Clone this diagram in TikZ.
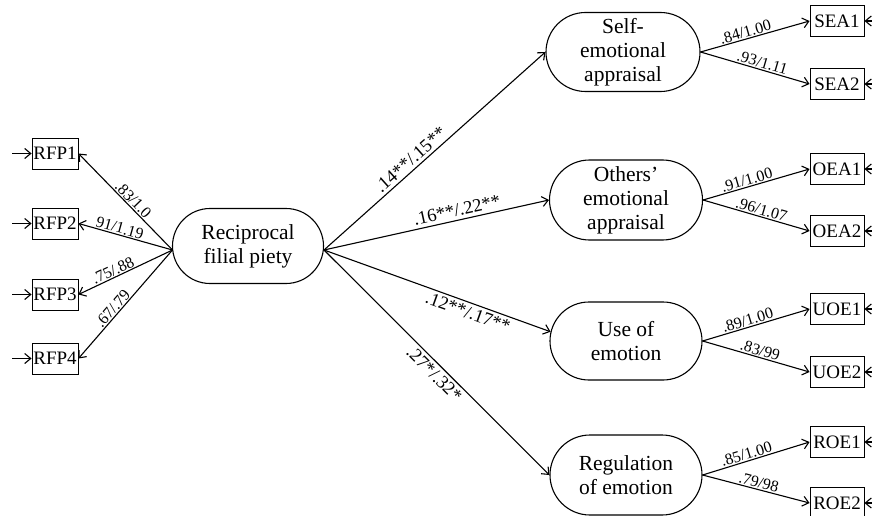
\documentclass[tikz,border=0pt]{standalone}
\usepackage{fontspec}
\setmainfont{Liberation Serif}
\usetikzlibrary{shapes.misc,arrows.meta}
\begin{document}
\begin{tikzpicture}[x=1pt,y=-1pt,
  lat/.style={draw, rounded rectangle, line width=1.1pt, inner sep=0pt, align=center, font=\fontsize{21.5}{24}\selectfont},
  obs/.style={draw, rectangle, line width=0.9pt, minimum height=31pt, inner xsep=1pt, inner ysep=0pt, font=\fontsize{19}{21}\selectfont},
  lobs/.style={obs, minimum width=46pt},
  robs/.style={obs, minimum width=54pt},
  arr/.style={line width=1.1pt, -{Straight Barb[length=6pt,width=10pt]}},
  pl/.style={font=\fontsize{18.5}{20}\selectfont, sloped, inner sep=3pt},
  ll/.style={font=\fontsize{16}{18}\selectfont, sloped, inner sep=1pt}]
\useasboundingbox (0,0) rectangle (872,516);
\clip (0,0) rectangle (872,516);

% latent nodes
\node[lat, minimum width=151pt, minimum height=75pt] (rfp) at (248,246) {Reciprocal\\filial piety};
\node[lat, minimum width=154pt, minimum height=79pt] (sea) at (623,52) {Self-\\emotional\\appraisal};
\node[lat, minimum width=153pt, minimum height=80pt] (oea) at (626,200) {Others’\\emotional\\appraisal};
\node[lat, minimum width=152pt, minimum height=78pt] (uoe) at (626,341) {Use of\\emotion};
\node[lat, minimum width=152pt, minimum height=80pt] (roe) at (626,475) {Regulation\\of emotion};

% left observed
\node[lobs] (r1) at (55,153.5) {RFP1};
\node[lobs] (r2) at (55,223.5) {RFP2};
\node[lobs] (r3) at (55,294.5) {RFP3};
\node[lobs] (r4) at (55,358.5) {RFP4};

% right observed
\node[robs] (s1) at (837,21) {SEA1};
\node[robs] (s2) at (837,84) {SEA2};
\node[robs] (o1) at (837,169) {OEA1};
\node[robs] (o2) at (837,231) {OEA2};
\node[robs] (u1) at (837,309) {UOE1};
\node[robs] (u2) at (837,372) {UOE2};
\node[robs] (g1) at (837,442) {ROE1};
\node[robs] (g2) at (837,503) {ROE2};

% helper coordinates
\coordinate (rl) at (172.5,250);
\coordinate (rr) at (324,250);
\foreach \n in {r1,r2,r3,r4}{
  \coordinate (\n x) at (\n.west -| 12,0);
  \draw[arr] (\n x) -- (\n.west);
}
\foreach \n in {s1,s2,o1,o2,u1,u2,g1,g2}{
  \coordinate (\n x) at (\n.east -| 890,0);
  \draw[arr] (\n x) -- (\n.east);
}

% left loadings
\draw[arr] (rl) -- node[ll, pos=.47, above] {.83/1.0} (r1.east);
\draw[arr] (rl) -- node[ll, pos=.58, above] {91/1.19} (r2.east);
\draw[arr] (rl) -- node[ll, pos=.6, above] {.75/.88} (r3.east);
\draw[arr] (rl) -- node[ll, pos=.58, above] {.67/.79} (r4.east);

% structural paths
\draw[arr] (rr) -- node[pl, pos=.42, above] {.14**/.15**} (sea.west);
\draw[arr] (rr) -- node[pl, pos=.6, above] {.16**/.22**} (oea.west);
\draw[arr] (rr) -- node[pl, pos=.65, below] {.12**/.17**} (uoe.173);
\draw[arr] (rr) -- node[pl, pos=.52, below] {.27*/.32*} (roe.west);

% right loadings
\draw[arr] (sea.east) -- node[ll, pos=.43, above] {.84/1.00} (s1.west);
\draw[arr] (sea.east) -- node[ll, pos=.55, above] {.93/1.11} (s2.west);
\draw[arr] (oea.east) -- node[ll, pos=.43, above] {.91/1.00} (o1.west);
\draw[arr] (oea.east) -- node[ll, pos=.53, above] {.96/1.07} (o2.west);
\draw[arr] (uoe.east) -- node[ll, pos=.44, above] {.89/1.00} (u1.west);
\draw[arr] (uoe.east) -- node[ll, pos=.52, above] {.83/99} (u2.west);
\draw[arr] (roe.east) -- node[ll, pos=.43, above] {.85/1.00} (g1.west);
\draw[arr] (roe.east) -- node[ll, pos=.51, above] {.79/98} (g2.west);
\end{tikzpicture}
\end{document}
